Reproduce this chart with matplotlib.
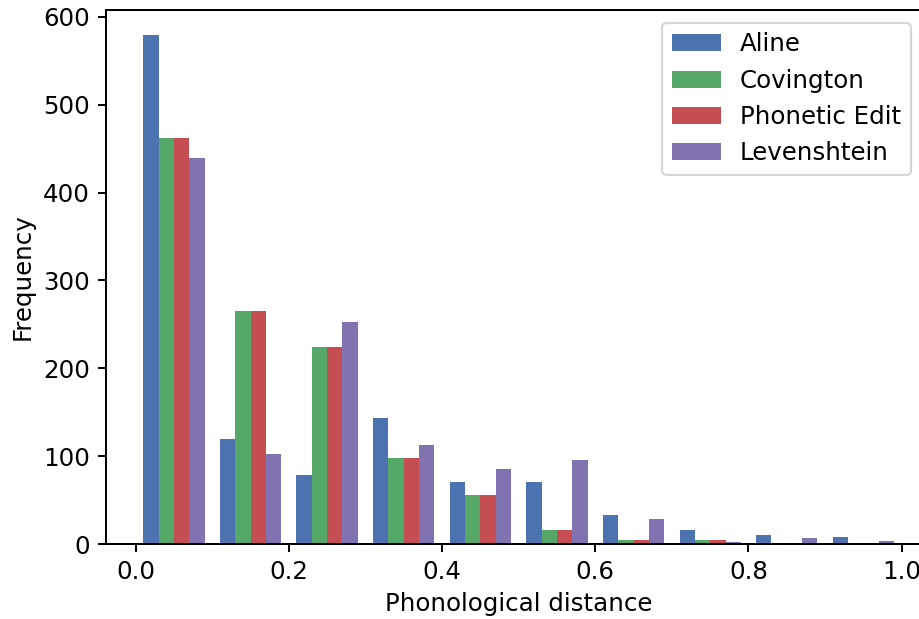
import numpy as np
import matplotlib
matplotlib.use("Agg")
import matplotlib.pyplot as plt

# Histogram counts per bin (10 bins from 0.0 to 1.0)
bin_edges = [0.0, 0.1, 0.2, 0.3, 0.4, 0.5, 0.6, 0.7, 0.8, 0.9, 1.0]
series_names = ["Aline", "Covington", "Phonetic Edit", "Levenshtein"]
aline = [579, 119, 78, 144, 71, 71, 33, 16, 10, 8]
covington = [462, 265, 224, 98, 56, 16, 4, 4, 0, 0]
phonetic_edit = [462, 265, 224, 98, 56, 16, 4, 4, 0, 0]
levenshtein = [439, 102, 253, 113, 85, 96, 29, 2, 7, 3]
colors = ["#4C72B0", "#55A868", "#C44E52", "#8172B2"]
xticks = [0.0, 0.2, 0.4, 0.6, 0.8, 1.0]
yticks = [0, 100, 200, 300, 400, 500, 600]

plt.rcParams["font.size"] = 11
plt.rcParams["axes.linewidth"] = 0.9
plt.rcParams["xtick.major.width"] = 0.9
plt.rcParams["ytick.major.width"] = 0.9

DPI = 160
fig = plt.figure(figsize=(919 / DPI, 619 / DPI), dpi=DPI)
ax = fig.add_axes([105.7 / 919, 1 - 544 / 619, (931.6 - 105.7) / 919, (544 - 10) / 619])

edges = np.array(bin_edges)
centers = (edges[:-1] + edges[1:]) / 2
data = [centers] * 4
weights = [aline, covington, phonetic_edit, levenshtein]
ax.hist(data, bins=edges, weights=weights, color=colors, label=series_names,
        rwidth=0.8)

ax.set_xticks(xticks)
ax.set_yticks(yticks)
ax.set_xlabel("Phonological distance")
ax.set_ylabel("Frequency")

leg = ax.legend(loc="upper right", bbox_to_anchor=(911 / 919, 1 - 22.7 / 619),
                bbox_transform=fig.transFigure, borderaxespad=0)

fig.savefig("out.png", dpi=DPI)
